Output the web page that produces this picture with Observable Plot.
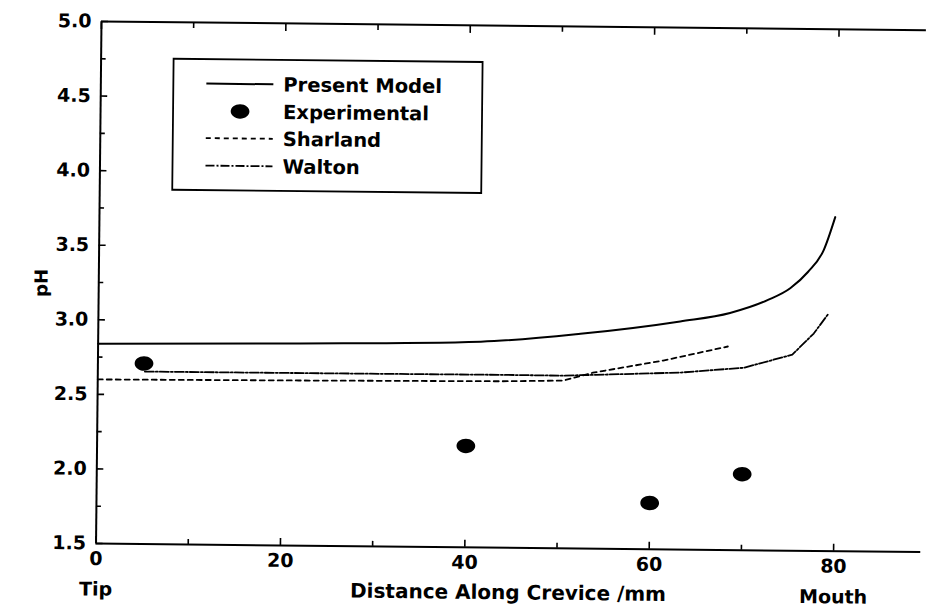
<!DOCTYPE html>
<html>
<head>
<meta charset="utf-8">
<script src="https://cdn.jsdelivr.net/npm/d3@7"></script>
<script src="https://cdn.jsdelivr.net/npm/@observablehq/plot@0.6"></script>
<style>
  html, body { margin: 0; padding: 0; background: #fff; }
  #chart {
    position: relative; width: 926px; height: 608px; overflow: hidden;
    transform: rotate(0.6deg); transform-origin: 101px 21px;
    font-family: "DejaVu Sans", sans-serif; font-weight: bold;
  }
  #chart svg { position: absolute; left: 0; top: 0; }
</style>
</head>
<body>
<div id="chart"></div>
<script>
// Axis extents and ticks
const xDomain = [0, 90];
const yDomain = [1.5, 5.0];
const xMajor = [0, 20, 40, 60, 80];
const xMinor = [10, 30, 50, 70, 90];
const yMajor = [1.5, 2.0, 2.5, 3.0, 3.5, 4.0, 4.5, 5.0];
const yMinor = [1.75, 2.25, 2.75, 3.25, 3.75, 4.25, 4.75];

// Texts
const xTitle = "Distance Along Crevice /mm";
const yTitle = "pH";
const endLabels = ["Tip", "Mouth"];
const endLabelX = [0, 80];
const seriesNames = ["Present Model", "Experimental", "Sharland", "Walton"];

// Present model prediction
const presentX = [0, 21.9, 41.5, 52.3, 63.1, 68.5, 72.6, 75.0, 76.9, 78.6, 79.8];
const presentPH = [2.84, 2.855, 2.88, 2.94, 3.03, 3.09, 3.18, 3.26, 3.37, 3.52, 3.74];

// Experimental measurements
const expX = [5, 40, 60, 70];
const expPH = [2.71, 2.18, 1.81, 2.01];

// Sharland model
const sharlandX = [0, 21.8, 43.7, 50.5, 53.7, 61.3, 68.3];
const sharlandPH = [2.60, 2.607, 2.616, 2.625, 2.68, 2.766, 2.865];

// Walton model
const waltonX = [5.1, 25.2, 43.7, 50.5, 63.2, 70.1, 75.3, 77.6, 79.1];
const waltonPH = [2.656, 2.657, 2.659, 2.658, 2.687, 2.724, 2.815, 2.958, 3.086];

const zip = (xs, ys) => xs.map((x, i) => ({x, pH: ys[i]}));
const present = zip(presentX, presentPH);
const experimental = zip(expX, expPH);
const sharland = zip(sharlandX, sharlandPH);
const walton = zip(waltonX, waltonPH);
const ends = endLabels.map((label, i) => ({label, x: endLabelX[i]}));

// Line styles shared by the plot and the legend
const styles = {
  "Present Model": {strokeWidth: 2, dash: null},
  "Sharland": {strokeWidth: 1.8, dash: "5,4"},
  "Walton": {strokeWidth: 1.8, dash: "9,2,2,2"}
};

// Filled ellipse marker (slightly wider than tall)
const ellipse = {
  draw(ctx, size) {
    const r = Math.sqrt(size / Math.PI);
    const rx = r * 1.3, ry = r, k = 0.5523;
    const kx = k * rx, ky = k * ry;
    ctx.moveTo(rx, 0);
    ctx.bezierCurveTo(rx, ky, kx, ry, 0, ry);
    ctx.bezierCurveTo(-kx, ry, -rx, ky, -rx, 0);
    ctx.bezierCurveTo(-rx, -ky, -kx, -ry, 0, -ry);
    ctx.bezierCurveTo(kx, -ry, rx, -ky, rx, 0);
    ctx.closePath();
  }
};

const frameLeft = 101, frameTop = 21, frameBottom = 543, pxPerMm = 9.22;
const tickStyle = {strokeWidth: 1.6, label: null};

const plot = Plot.plot({
  width: 926,
  height: 608,
  marginLeft: frameLeft,
  marginRight: 0,
  marginTop: frameTop,
  marginBottom: 608 - frameBottom,
  style: {fontFamily: "DejaVu Sans", fontWeight: "bold", fontSize: "19px", color: "black", background: "transparent"},
  x: {domain: xDomain, range: [frameLeft, frameLeft + (xDomain[1] - xDomain[0]) * pxPerMm]},
  y: {domain: yDomain},
  marks: [
    Plot.ruleY(yDomain, {stroke: "black", strokeWidth: 2}),
    Plot.ruleX(xDomain, {stroke: "black", strokeWidth: 2}),
    Plot.axisY({...tickStyle, ticks: yMajor, anchor: "left", tickSize: -7, tickPadding: 17, tickFormat: d3.format(".1f"), letterSpacing: 1.5}),
    Plot.axisY({...tickStyle, ticks: yMinor, anchor: "left", tickSize: -5, tickFormat: () => ""}),
    Plot.axisX({...tickStyle, ticks: xMajor, anchor: "bottom", tickSize: -7, tickPadding: 15, tickFormat: d3.format("d"), letterSpacing: 1.5}),
    Plot.axisX({...tickStyle, ticks: xMinor, anchor: "bottom", tickSize: -5, tickFormat: () => ""}),
    Plot.axisX({...tickStyle, ticks: xMajor, anchor: "top", tickSize: -7, tickFormat: () => ""}),
    Plot.axisX({...tickStyle, ticks: xMinor, anchor: "top", tickSize: -5, tickFormat: () => ""}),
    Plot.line(present, {x: "x", y: "pH", curve: "monotone-x", stroke: "black", strokeWidth: styles["Present Model"].strokeWidth}),
    Plot.line(sharland, {x: "x", y: "pH", stroke: "black", strokeWidth: styles["Sharland"].strokeWidth, strokeDasharray: styles["Sharland"].dash}),
    Plot.line(walton, {x: "x", y: "pH", stroke: "black", strokeWidth: styles["Walton"].strokeWidth, strokeDasharray: styles["Walton"].dash}),
    Plot.dot(experimental, {x: "x", y: "pH", r: 7.2, symbol: ellipse, fill: "black", stroke: "none"}),
    Plot.text([xTitle], {frameAnchor: "bottom", dy: 45, fontSize: 20, lineAnchor: "middle"}),
    Plot.text(ends, {x: "x", text: "label", frameAnchor: "bottom", dy: 46, fontSize: 19, lineAnchor: "middle"}),
    Plot.text([yTitle], {frameAnchor: "left", dx: -57, dy: 15, rotate: -90, fontSize: 18, lineAnchor: "middle"})
  ]
});

const chart = document.getElementById("chart");
chart.appendChild(plot);

// Legend box inside the plot area
const legend = d3.create("svg")
  .attr("width", 926)
  .attr("height", 608)
  .style("pointer-events", "none");

legend.append("rect")
  .attr("x", 174).attr("y", 58).attr("width", 309).attr("height", 131)
  .attr("fill", "white").attr("stroke", "black").attr("stroke-width", 1.8);

const rowY = [82.5, 110, 137, 164.5];
seriesNames.forEach((name, i) => {
  const y = rowY[i];
  if (name === "Experimental") {
    const sym = d3.symbol().type(ellipse).size(Math.PI * 7.2 * 7.2);
    legend.append("path").attr("d", sym()).attr("transform", `translate(241,${y})`).attr("fill", "black");
  } else {
    const s = styles[name];
    legend.append("line")
      .attr("x1", 207).attr("x2", 274).attr("y1", y).attr("y2", y)
      .attr("stroke", "black").attr("stroke-width", s.strokeWidth)
      .attr("stroke-dasharray", s.dash);
  }
  legend.append("text")
    .attr("x", 284).attr("y", y + 7)
    .attr("font-family", "DejaVu Sans").attr("font-weight", "bold").attr("font-size", 19.5)
    .text(name);
});

chart.appendChild(legend.node());
</script>
</body>
</html>
